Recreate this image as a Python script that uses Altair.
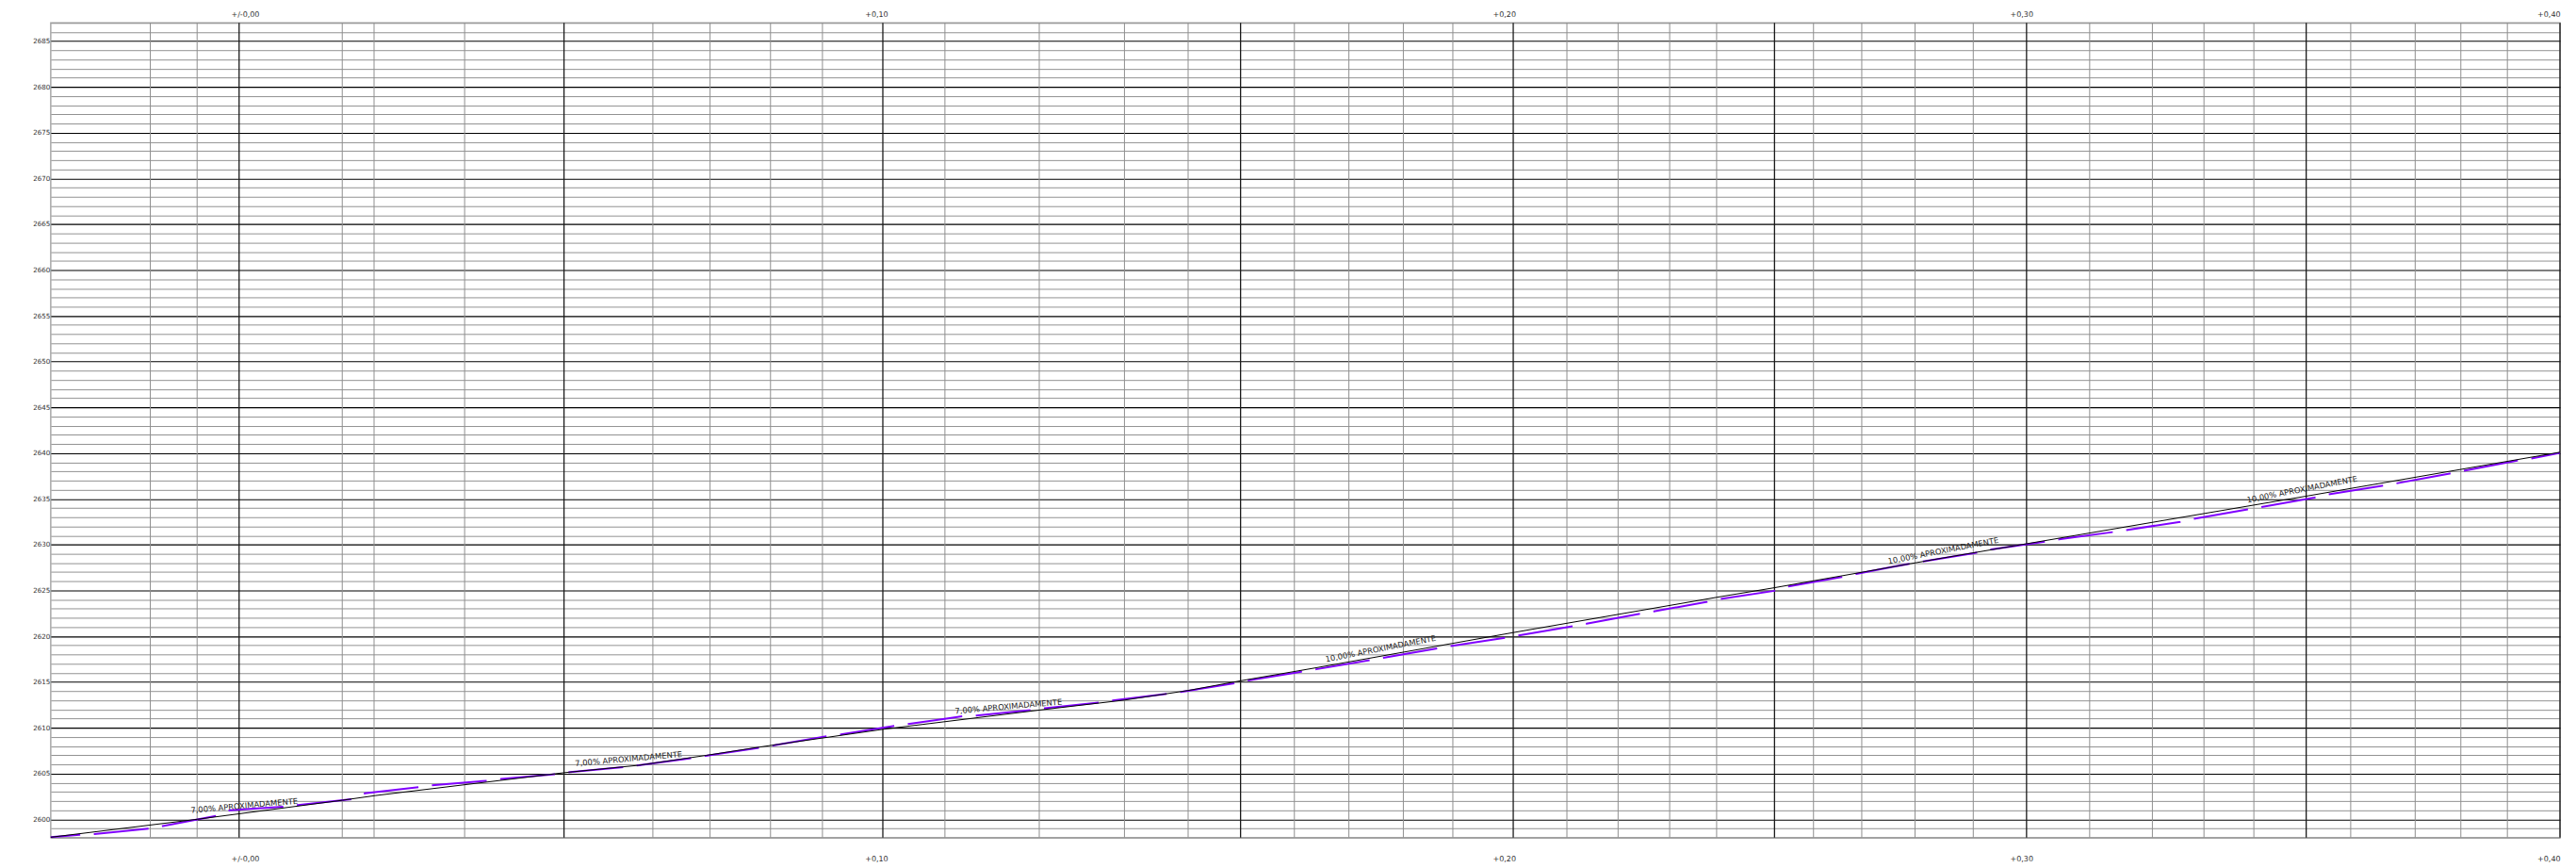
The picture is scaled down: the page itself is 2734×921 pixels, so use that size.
import json
import altair as alt
import pandas as pd

# ---- data (horizontal distance in m, elevation in m) ----
dist_minor = [20.0, 29.4, 58.55, 64.94, 83.13, 120.94, 132.43, 144.57, 155.0, 179.6,
              198.55, 215.66, 228.45, 249.79, 260.74, 271.68, 281.62, 304.53, 314.81,
              325.17, 334.6, 354.06, 363.75, 374.45, 386.15, 409.53, 422.13, 432.49,
              442.51, 461.96, 474.91, 484.08, 493.43]
dist_major = [37.83, 103.09, 167.13, 238.98, 293.75, 346.23, 396.85, 453.02, 504.0]

terrain_dist = [0.0, 29.4, 58.55, 65.3, 103.09, 118.1, 131.6, 142.5, 167.13, 198.55,
                215.6, 228.45, 238.98, 254.0, 293.75, 334.6, 346.23, 378.5, 396.85,
                453.02, 504.0]
terrain_elev = [2598.04, 2600.0, 2602.08, 2602.6, 2605.09, 2605.9, 2606.98, 2607.9,
                2609.83, 2611.93, 2613.02, 2614.07, 2615.13, 2616.54, 2620.4, 2624.25,
                2625.3, 2628.4, 2630.1, 2635.3, 2640.1]

grade_dist = [0.0, 5.81, 8.75, 19.72, 22.49, 33.19, 35.96, 46.92, 49.62, 60.57, 63.09,
              74.04, 76.57, 87.92, 90.47, 101.42, 104.34, 115.28, 118.11, 128.89, 131.58,
              142.55, 145.08, 156.02, 158.72, 169.66, 172.19, 183.13, 185.92, 196.87,
              199.64, 210.75, 213.3, 224.25, 226.94, 237.72, 240.49, 250.9, 254.17,
              264.94, 267.64, 278.58, 281.21, 292.15, 294.85, 305.79, 308.49, 319.28,
              321.96, 332.75, 335.45, 346.23, 349.02, 359.7, 362.64, 369.4, 374.72,
              386.23, 389.74, 400.6, 403.36, 414.11, 416.89, 427.74, 430.4, 441.26,
              444.02, 454.7, 457.36, 468.23, 470.98, 481.83, 484.51, 495.36, 498.11, 504.0]
grade_elev = [2598.04, 2598.30, 2598.38, 2598.99, 2599.27, 2600.36, 2600.98, 2601.39,
              2601.56, 2602.21, 2602.83, 2603.51, 2603.72, 2604.23, 2604.41, 2604.92,
              2605.16, 2605.70, 2605.91, 2606.70, 2606.94, 2607.83, 2608.07, 2609.10,
              2609.27, 2610.23, 2610.40, 2611.25, 2611.33, 2611.94, 2612.12, 2612.76,
              2612.97, 2613.72, 2613.90, 2614.85, 2615.16, 2616.10, 2616.39, 2617.39,
              2617.63, 2618.69, 2618.93, 2619.83, 2620.09, 2621.09, 2621.37, 2622.46,
              2622.70, 2623.76, 2624.07, 2624.96, 2625.44, 2626.46, 2626.81, 2627.53,
              2628.05, 2629.07, 2629.49, 2630.34, 2630.58, 2631.37, 2631.60, 2632.50,
              2632.81, 2633.86, 2634.11, 2635.14, 2635.48, 2636.43, 2636.68, 2637.77,
              2638.05, 2639.18, 2639.41, 2640.03]

note_text = ["7,00% APROXIMADAMENTE", "7,00% APROXIMADAMENTE", "7,00% APROXIMADAMENTE",
             "10,00% APROXIMADAMENTE", "10,00% APROXIMADAMENTE", "10,00% APROXIMADAMENTE"]
note_grade = [7, 7, 7, 10, 10, 10]
note_dist = [39.0, 116.2, 192.5, 267.4, 380.4, 452.5]
note_elev = [2600.68, 2605.8, 2611.52, 2617.84, 2628.55, 2635.25]

x_label_pos = [39.0, 165.8, 291.9, 395.8, 504.0]
x_label_text = ["+/-0,00", "+0,10", "+0,20", "+0,30", "+0,40"]

levels = list(range(2598, 2688))

FONT = "DejaVu Sans"

xscale = alt.Scale(domain=[0, 504], nice=False, zero=False)
yscale = alt.Scale(domain=[2598, 2687], nice=False, zero=False)

label_expr = f"{json.dumps(x_label_text)}[indexof({json.dumps(x_label_pos)}, datum.value)]"

def x_axis(orient, pad):
    return alt.Axis(orient=orient, values=x_label_pos, labelExpr=label_expr, grid=False,
                    ticks=False, domain=False, labelPadding=pad, labelFontSize=8,
                    labelFont=FONT, labelColor="#333", labelFlush=True, title=None,
                    labelOverlap=False)

y_axis = alt.Axis(values=levels, format="d",
                  labelExpr="datum.value % 5 === 0 ? datum.label : ''",
                  grid=True,
                  gridColor={"condition": {"test": "datum.value % 5 === 0", "value": "#000000"},
                             "value": "#929292"},
                  gridWidth={"condition": {"test": "datum.value % 5 === 0", "value": 1.1},
                             "value": 1},
                  gridOpacity=1, ticks=False, domain=False, labelPadding=1,
                  labelFontSize=7.2, labelFont=FONT, labelColor="#333",
                  labelOverlap=False, title=None)

minor_df = pd.DataFrame({"dist": dist_minor})
major_df = pd.DataFrame({"dist": dist_major})
terrain_df = pd.DataFrame({"dist": terrain_dist, "elev": terrain_elev})
grade_df = pd.DataFrame({"dist": grade_dist, "elev": grade_elev})
note_df = pd.DataFrame({"text": note_text, "grade": note_grade,
                        "dist": note_dist, "elev": note_elev})

minor = alt.Chart(minor_df).mark_rule(color="#8f8f8f", strokeWidth=1).encode(
    x=alt.X("dist:Q", scale=xscale, axis=None))
major = alt.Chart(major_df).mark_rule(color="#1a1a1a", strokeWidth=1.3).encode(
    x=alt.X("dist:Q", scale=xscale, axis=None))

grade = alt.Chart(grade_df).mark_line(color="#8000ff", strokeWidth=2,
                                      strokeDash=[58.5, 14.5], strokeDashOffset=27).encode(
    x=alt.X("dist:Q", scale=xscale, axis=x_axis("top", 5)),
    y=alt.Y("elev:Q", scale=yscale, axis=y_axis),
    order="dist:Q")

terrain = alt.Chart(terrain_df).mark_line(color="#000000", strokeWidth=1).encode(
    x=alt.X("dist:Q", scale=xscale, axis=x_axis("bottom", 19)),
    y=alt.Y("elev:Q", scale=yscale, axis=y_axis),
    order="dist:Q")

notes = alt.Chart(note_df).transform_calculate(
    rot="datum.grade >= 10 ? 349 : 355"
).mark_text(align="center", baseline="alphabetic", dy=-5, font=FONT, fontSize=8.4,
            color="#222").encode(
    x=alt.X("dist:Q", scale=xscale, axis=None),
    y=alt.Y("elev:Q", scale=yscale, axis=y_axis),
    text="text:N",
    angle=alt.Angle("rot:Q", scale=None))

chart = alt.layer(minor, major, grade, terrain, notes).resolve_axis(
    x="independent"
).properties(
    width=2671, height=867,
    autosize=alt.AutoSizeParams(type="none"),
    padding={"left": 46, "top": 15, "right": 9, "bottom": 31},
    background="white",
).configure_view(stroke="#a8a8a8", strokeWidth=1.5)

chart.save("out.html", embed_options={"renderer": "svg", "actions": False})
